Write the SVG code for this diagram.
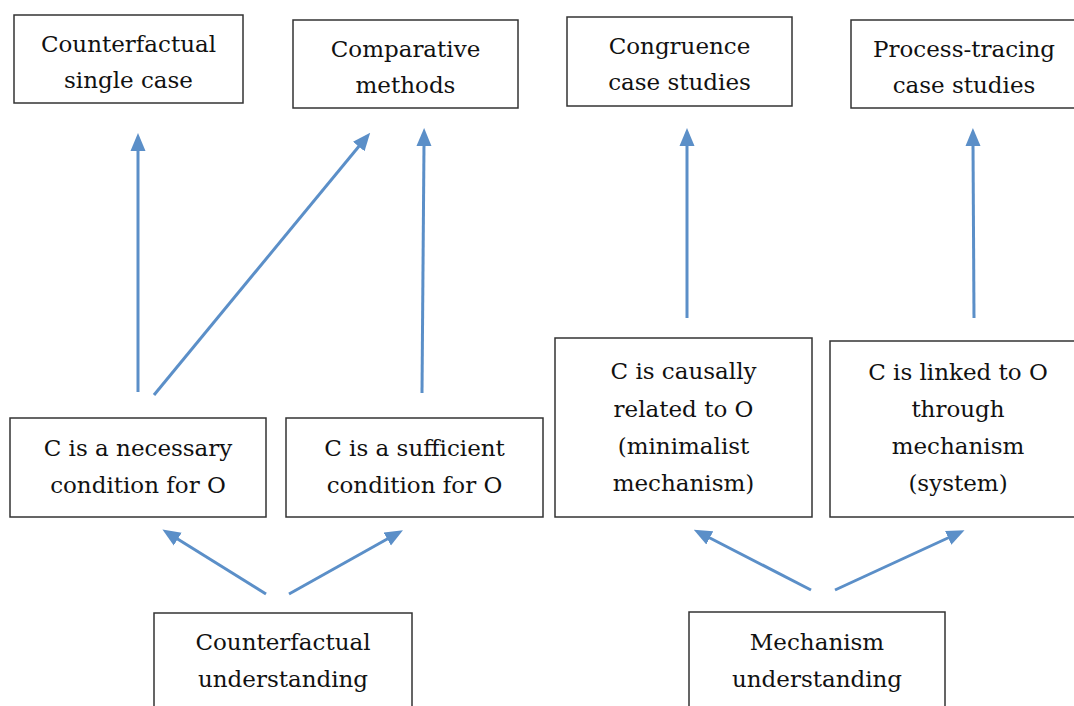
<svg xmlns="http://www.w3.org/2000/svg" width="1074" height="706" viewBox="0 0 1074 706">
<style>
.box{fill:#fff;stroke:#333;stroke-width:1.5}
.t{font-family:"DejaVu Serif","Liberation Serif",serif;font-size:23px;fill:#111;text-anchor:middle}
.c{stroke:#5b8fc8;stroke-width:3;fill:none;marker-end:url(#ah)}
</style>
<defs>
<marker id="ah" markerUnits="userSpaceOnUse" markerWidth="18" markerHeight="16" viewBox="0 0 18 16" refX="2" refY="8" orient="auto">
<path d="M0,0.5 L18,8 L0,15.5 z" fill="#5b8fc8"/>
</marker>
</defs>
<rect width="1074" height="706" fill="#fff"/>
<g id="connectors">
<line class="c" x1="138" y1="392" x2="138" y2="149"/>
<line class="c" x1="154" y1="395" x2="360" y2="145"/>
<line class="c" x1="422" y1="393" x2="424" y2="144"/>
<line class="c" x1="687" y1="318" x2="687" y2="144"/>
<line class="c" x1="974" y1="318" x2="973" y2="144"/>
<line class="c" x1="266" y1="594" x2="176" y2="538"/>
<line class="c" x1="289" y1="594" x2="389" y2="538"/>
<line class="c" x1="811" y1="590" x2="708" y2="537"/>
<line class="c" x1="835" y1="590" x2="950" y2="537"/>
</g>
<g id="n1"><rect class="box" x="14" y="15" width="229" height="88"/>
<text class="t" x="128.5" y="52">Counterfactual</text><text class="t" x="128.5" y="88">single case</text></g>
<g id="n2"><rect class="box" x="293" y="20" width="225" height="88"/>
<text class="t" x="405.5" y="57">Comparative</text><text class="t" x="405.5" y="93">methods</text></g>
<g id="n3"><rect class="box" x="567" y="17" width="225" height="89"/>
<text class="t" x="679.5" y="54">Congruence</text><text class="t" x="679.5" y="90">case studies</text></g>
<g id="n4"><rect class="box" x="851" y="20" width="240" height="88"/>
<text class="t" x="964" y="57">Process-tracing</text><text class="t" x="964" y="93">case studies</text></g>
<g id="n5"><rect class="box" x="10" y="418" width="256" height="99"/>
<text class="t" x="138" y="456">C is a necessary</text><text class="t" x="138" y="493">condition for O</text></g>
<g id="n6"><rect class="box" x="286" y="418" width="257" height="99"/>
<text class="t" x="414.5" y="456">C is a sufficient</text><text class="t" x="414.5" y="493">condition for O</text></g>
<g id="n7"><rect class="box" x="555" y="338" width="257" height="179"/>
<text class="t" x="683.5" y="379">C is causally</text><text class="t" x="683.5" y="417">related to O</text><text class="t" x="683.5" y="454">(minimalist</text><text class="t" x="683.5" y="491">mechanism)</text></g>
<g id="n8"><rect class="box" x="830" y="341" width="260" height="176"/>
<text class="t" x="958" y="380">C is linked to O</text><text class="t" x="958" y="417">through</text><text class="t" x="958" y="454">mechanism</text><text class="t" x="958" y="491">(system)</text></g>
<g id="n9"><rect class="box" x="154" y="613" width="258" height="110"/>
<text class="t" x="283" y="650">Counterfactual</text><text class="t" x="283" y="687">understanding</text></g>
<g id="n10"><rect class="box" x="689" y="612" width="256" height="110"/>
<text class="t" x="817" y="650">Mechanism</text><text class="t" x="817" y="687">understanding</text></g>
</svg>
